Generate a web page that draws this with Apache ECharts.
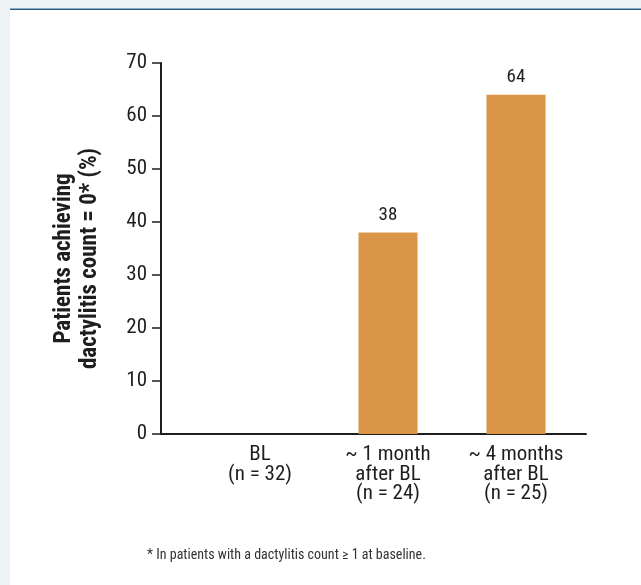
<!DOCTYPE html>
<html>
<head>
<meta charset="utf-8">
<script src="https://cdn.jsdelivr.net/npm/echarts@6/dist/echarts.min.js"></script>
<style>
  html, body { margin: 0; padding: 0; width: 641px; height: 585px; background: #edf2f5; overflow: hidden; }
  #panel { position: absolute; left: 10px; top: 8px; width: 631px; height: 577px; background: #fff;
           border-top: 1px solid #8cadc5; box-shadow: inset 0 1px 0 #2a5a7b; }
  #chart { position: absolute; left: 0; top: 0; width: 641px; height: 585px; }
</style>
</head>
<body>
<div id="panel"></div>
<div id="chart"></div>
<script>
// Share of patients with a dactylitis count of 0, by visit
const categories = ['BL\n(n = 32)', '~ 1 month\nafter BL\n(n = 24)', '~ 4 months\nafter BL\n(n = 25)'];
const values = [null, 38, 64];
const yTicks = { min: 0, max: 70, interval: 10 };

const FONT = '"Roboto Condensed", "DejaVu Sans Condensed", sans-serif';
const INK = '#1e1e1e';

const chart = echarts.init(document.getElementById('chart'), null, { renderer: 'canvas' });

chart.setOption({
  backgroundColor: 'transparent',
  animation: false,
  textStyle: { fontFamily: FONT, color: INK },
  grid: [
    { left: 196, right: 61, top: 63, bottom: 151 },
    { left: 161, right: 55, top: 63, bottom: 151 }
  ],
  xAxis: [
    {
      type: 'category',
      gridIndex: 0,
      data: categories,
      axisLine: { show: false },
      axisTick: { show: false },
      axisLabel: { fontFamily: FONT, fontSize: 21, color: INK, lineHeight: 19.5, margin: 11 }
    },
    {
      // baseline running from the value axis to the right end
      type: 'value',
      gridIndex: 1,
      min: 0, max: 1,
      axisLine: { show: true, lineStyle: { color: INK, width: 2 } },
      axisTick: { show: false },
      axisLabel: { show: false },
      splitLine: { show: false }
    }
  ],
  yAxis: [
    {
      type: 'value',
      gridIndex: 0,
      min: yTicks.min, max: yTicks.max, interval: yTicks.interval,
      offset: 35,
      name: 'Patients achieving\ndactylitis count = 0* (%)',
      nameLocation: 'middle',
      nameGap: 58,
      nameTextStyle: {
        fontFamily: FONT, fontSize: 23, fontWeight: 'bold', color: INK, lineHeight: 26,
        padding: [0, 20, 0, 0]
      },
      axisLine: { show: true, lineStyle: { color: INK, width: 2 } },
      axisTick: { show: true, length: 9, lineStyle: { color: INK, width: 1.5 } },
      axisLabel: { fontFamily: FONT, fontSize: 21, color: INK, margin: 14 },
      splitLine: { show: false }
    },
    {
      type: 'value', gridIndex: 1, min: 0, max: 1, show: false
    }
  ],
  series: [
    {
      type: 'bar',
      xAxisIndex: 0, yAxisIndex: 0,
      data: values,
      barWidth: 59,
      itemStyle: { color: '#da9547' },
      label: {
        show: true, position: 'top', distance: 8,
        fontFamily: FONT, fontSize: 19, color: INK
      }
    }
  ],
  title: {
    text: '* In patients with a dactylitis count \u2265 1 at baseline.',
    left: 142, top: 543,
    textStyle: { fontFamily: FONT, fontSize: 14, fontWeight: 'normal', color: '#333' }
  }
});
</script>
</body>
</html>
